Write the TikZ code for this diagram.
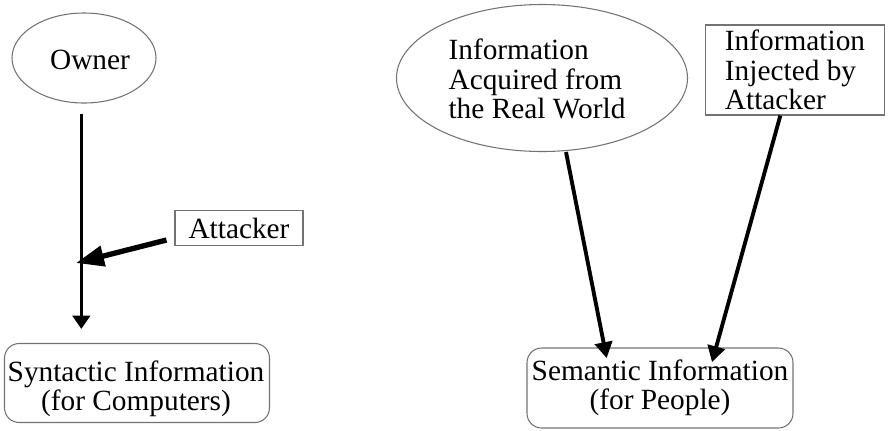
\documentclass[tikz,border=0pt]{standalone}
\usepackage{fontspec}
\setmainfont{Liberation Serif}
\usetikzlibrary{arrows.meta,shapes.geometric}
\tikzset{
  lbl/.style={font=\fontsize{22}{22}\selectfont, text=black, inner sep=0pt},
  oval/.style={ellipse, draw=black!55, line width=0.8pt, inner sep=0pt},
  plainbox/.style={lbl, rectangle, draw=black!55, line width=0.8pt},
  roundbox/.style={lbl, rectangle, rounded corners=11pt, draw=black!55, line width=0.8pt, align=center},
  flow/.style={line width=2.7pt, -{Triangle[width=13pt,length=10pt]}},
  longflow/.style={line width=2.9pt, -{Triangle[width=13pt,length=12pt]}},
  strike/.style={line width=4pt, -{Triangle[width=15pt,length=21pt]}}
}
\begin{document}
\begin{tikzpicture}[x=0.75pt, y=-0.75pt]
\useasboundingbox (0,0) rectangle (888,430);

% left side: syntactic information
\node[oval, minimum width=144pt*0.75, minimum height=90pt*0.75] (owner) at (84,58) {};
\node[lbl] (ownertxt) at (90,60) {Owner};
\node[plainbox, minimum width=128pt*0.75, minimum height=35pt*0.75] (att) at (239,228) {Attacker};
\node[roundbox, minimum width=265pt*0.75, minimum height=79pt*0.75] (syn) at (137,383) {};
\node[lbl, align=center] (syntxt) at (136,389) {Syntactic Information\\(for Computers)};
\coordinate (hit) at (76,263);

\draw[flow, shorten <=7.5pt, shorten >=10.5pt] ([xshift=-2pt]owner.south) -- ([xshift=-2pt]owner.south |- syn.north);
\draw[strike] ([xshift=-6pt, yshift=-9pt]att.west) -- (hit);

% right side: semantic information
\node[oval, minimum width=291pt*0.75, minimum height=147pt*0.75] (real) at (542,78) {};
\node[lbl, align=left] (realtxt) at (537,79) {Information\\Acquired from\\the Real World};
\node[plainbox, minimum width=179pt*0.75, minimum height=90pt*0.75, align=left] (inj) at (795,70)
  {Information\\Injected by\\Attacker};
\node[roundbox, minimum width=266pt*0.75, minimum height=80pt*0.75] (sem) at (660,388)
  {Semantic Information\\(for People)};

\draw[longflow] ([xshift=18pt]real.south) -- ([xshift=-40pt, yshift=-8pt]sem.north);
\draw[longflow] ([xshift=-11pt]inj.south) -- ([xshift=39pt, yshift=-11pt]sem.north);
\end{tikzpicture}
\end{document}
